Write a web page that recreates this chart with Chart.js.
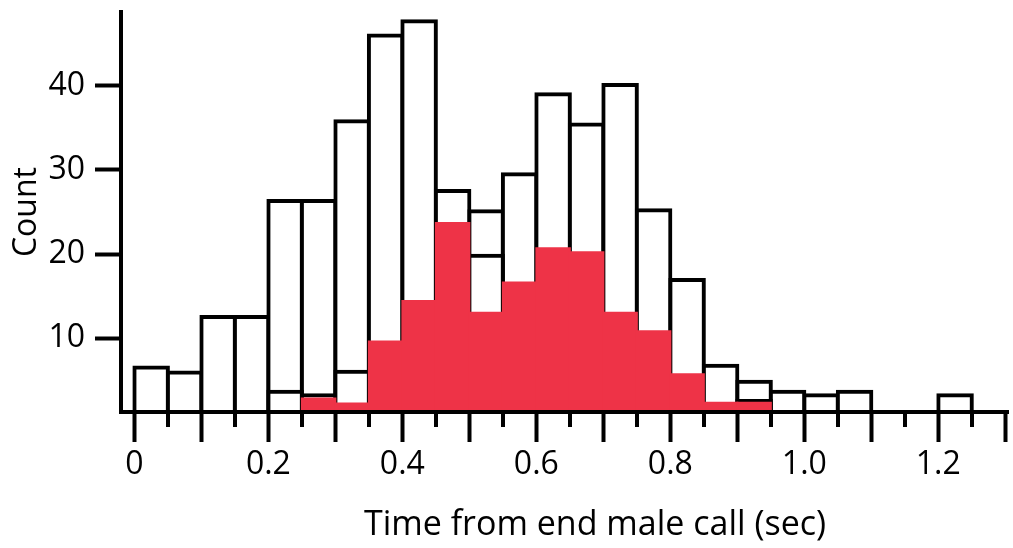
<!DOCTYPE html>
<html>
<head>
<meta charset="utf-8">
<title>Response latency histogram</title>
<script src="https://cdn.jsdelivr.net/npm/chart.js@4.4.1/dist/chart.umd.min.js"></script>
<style>
  body { margin: 0; background: #fff; }
  #wrap { width: 1013px; height: 548px; }
</style>
</head>
<body>
<div id="wrap"><canvas id="histChart" width="1013" height="548"></canvas></div>
<script>
// Histogram bins: left edge of each bin (sec), all bins 0.05 s wide
const binStarts = [0, 0.05, 0.1, 0.15, 0.2, 0.25, 0.3, 0.35, 0.4, 0.45, 0.5, 0.55, 0.6,
  0.65, 0.7, 0.75, 0.8, 0.85, 0.9, 0.95, 1.0, 1.05, 1.1, 1.15, 1.2];
const binWidth = 0.05;

// outlined bars (all responses)
const allCounts = [6.5, 5.9, 12.5, 12.5, 26.3, 26.3, 35.8, 46.0, 47.7, 27.5, 25.1, 29.5, 39.0,
  35.4, 40.1, 25.2, 16.9, 6.7, 4.8, 3.6, 3.2, 3.6, 0, 0, 3.2];
// second outlined histogram, only visible where it sits above the red one
const innerCounts = [null, null, null, null, 3.6, 3.2, 6.0, null, null, null, 19.8, null, null,
  null, null, null, null, null, 2.5, null, null, null, null, null, null];
// filled red bars
const redCounts = [null, null, null, null, null, 2.8, 2.2, 9.6, 14.4, 23.7, 13.0, 16.6, 20.7,
  20.2, 13.0, 10.8, 5.7, 2.3, 2.3, null, null, null, null, null, null];

const yTickValues = [10, 20, 30, 40];
const xAxisTitle = "Time from end male call (sec)";
const yAxisTitle = "Count";

const fontFamily = "'Open Sans', sans-serif";
Chart.defaults.font.family = fontFamily;
Chart.defaults.color = "#000";

function toPoints(counts) {
  return binStarts.map((start, i) => ({ x: start + binWidth / 2, y: counts[i] }));
}

function isStep(value, step) {
  const k = Math.round(value / step);
  return Math.abs(value - k * step) < 1e-6;
}

// short ticks at the odd 0.05 marks + the x axis title
const minorTicks = {
  id: "minorTicks",
  afterDraw(chart) {
    const { ctx, chartArea } = chart;
    const x = chart.scales.x;
    ctx.save();
    ctx.strokeStyle = "#000";
    ctx.lineWidth = 4;
    x.ticks.forEach((t) => {
      if (isStep(t.value, 0.1)) return;
      const px = Math.round(x.getPixelForValue(t.value));
      ctx.beginPath();
      ctx.moveTo(px, chartArea.bottom);
      ctx.lineTo(px, chartArea.bottom + 15);
      ctx.stroke();
    });
    ctx.font = "34px " + fontFamily;
    ctx.fillStyle = "#000";
    ctx.textAlign = "center";
    ctx.textBaseline = "alphabetic";
    ctx.fillText(xAxisTitle, 595, 535);
    ctx.restore();
  },
};

const ctx = document.getElementById("histChart").getContext("2d");
const histChart = new Chart(ctx, {
  type: "bar",
  data: {
    datasets: [
      {
        label: "all",
        data: toPoints(allCounts),
        backgroundColor: "#fff",
        borderColor: "#000",
        borderWidth: 4,
        inflateAmount: 2,
        order: 3,
      },
      {
        label: "inner",
        data: toPoints(innerCounts),
        backgroundColor: "#fff",
        borderColor: "#000",
        borderWidth: 4,
        inflateAmount: 2,
        order: 2,
      },
      {
        label: "red",
        data: toPoints(redCounts),
        backgroundColor: "#ee3347",
        borderWidth: 0,
        inflateAmount: 1,
        order: 1,
      },
    ],
  },
  options: {
    responsive: false,
    animation: false,
    layout: { padding: { top: 12, right: 5, left: 0, bottom: 0 } },
    datasets: {
      bar: {
        grouped: false,
        barPercentage: 1,
        categoryPercentage: 1,
        clip: 0,
      },
    },
    plugins: {
      legend: { display: false },
      tooltip: { enabled: false },
    },
    scales: {
      x: {
        type: "linear",
        min: -0.02,
        max: 1.304,
        offset: false,
        border: { display: true, color: "#000", width: 4, z: 1 },
        grid: {
          offset: false,
          drawOnChartArea: false,
          drawTicks: true,
          tickLength: 30,
          tickWidth: 4,
          tickColor: (c) => (c.tick && isStep(c.tick.value, 0.1) ? "#000" : "rgba(0,0,0,0)"),
        },
        ticks: {
          stepSize: 0.05,
          includeBounds: false,
          autoSkip: false,
          maxRotation: 0,
          padding: 4,
          font: { size: 32 },
          callback: (value) => {
            if (!isStep(value, 0.2)) return "";
            return Math.abs(value) < 1e-6 ? "0" : value.toFixed(1);
          },
        },
        afterFit: (scale) => {
          scale.height = 136;
          scale.paddingLeft = 0;
          scale.paddingRight = 0;
        },
      },
      y: {
        min: 1.2,
        max: 48.8,
        border: { display: true, color: "#000", width: 4, z: 1 },
        grid: {
          drawOnChartArea: false,
          drawTicks: true,
          tickLength: 26,
          tickWidth: 4,
          tickColor: "#000",
        },
        ticks: {
          padding: 10,
          font: { size: 32 },
        },
        afterBuildTicks: (scale) => {
          scale.ticks = yTickValues.map((v) => ({ value: v }));
        },
        title: {
          display: true,
          text: yAxisTitle,
          font: { size: 32 },
          padding: { top: 8, bottom: 0 },
        },
        afterFit: (scale) => {
          scale.width = 121;
          scale.paddingTop = 0;
          scale.paddingBottom = 0;
        },
      },
    },
  },
  plugins: [minorTicks],
});
</script>
</body>
</html>
